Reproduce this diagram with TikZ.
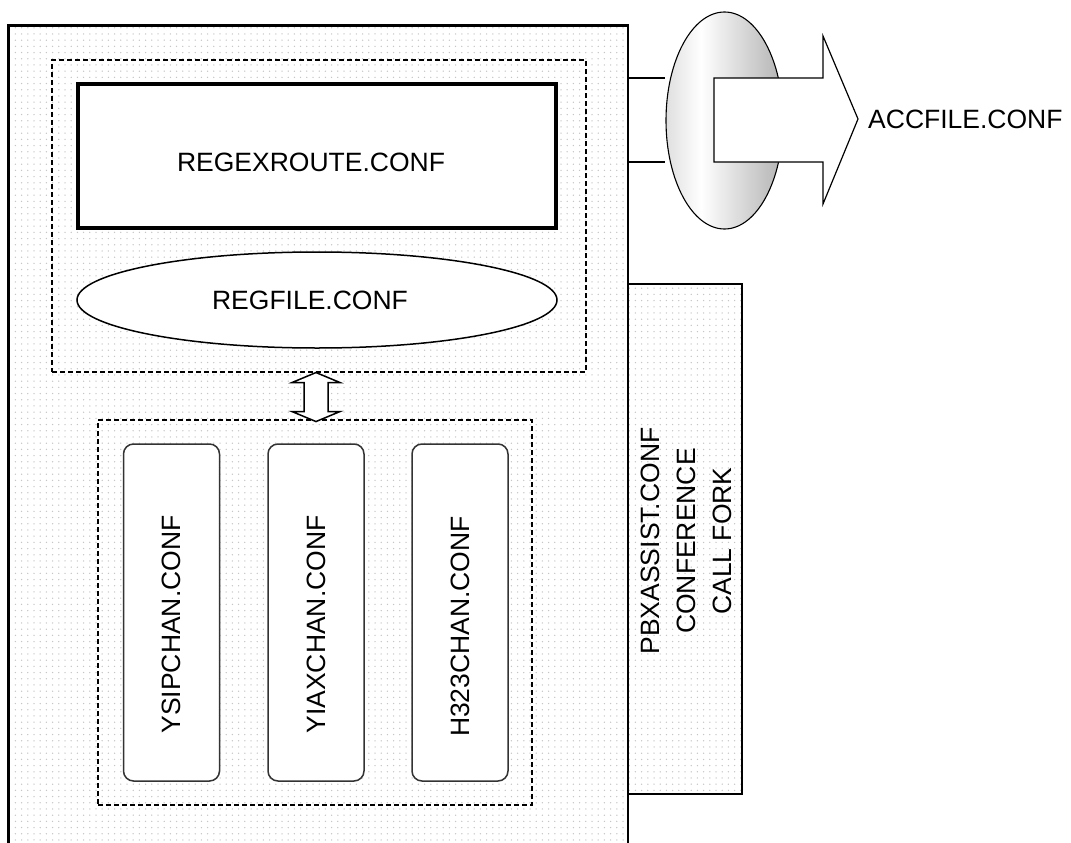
\documentclass[tikz,border=0pt]{standalone}
\usepackage{fontspec}
\setmainfont{Liberation Sans}
\usetikzlibrary{patterns,shapes.geometric,calc}
\pgfdeclarepatternformonly{sdots}{\pgfqpoint{-1pt}{-1pt}}{\pgfqpoint{7pt}{7pt}}{\pgfqpoint{6.2pt}{6.2pt}}{\pgfpathcircle{\pgfqpoint{3pt}{3pt}}{0.75pt}\pgfusepath{fill}}
\pgfdeclarehorizontalshading{ovalshade}{100bp}{color(0bp)=(gray!25); color(25bp)=(gray!25); color(40bp)=(white); color(75bp)=(gray!60); color(100bp)=(gray!60)}
\begin{document}
\begin{tikzpicture}[x=1pt,y=-1pt,
  every node/.style={font=\fontsize{26.5}{36}\selectfont, inner sep=0pt},
  dotfill/.style={pattern=sdots, pattern color=gray!45},
  frame/.style={draw, line width=2.5pt, dotfill},
  group/.style={draw, line width=1.1pt, dash pattern=on 5pt off 3pt},
  thickbox/.style={draw, line width=4pt, fill=white},
  oval/.style={draw, ellipse, line width=1.5pt, fill=white},
  chan/.style={draw=black!80, line width=1.5pt, fill=white, rounded corners=10pt},
  vtext/.style={rotate=90},
  plain/.style={line width=1.2pt}]
\useasboundingbox (0,0) rectangle (1071,843);

% main container
\node[frame, minimum width=619.5pt, minimum height=844.5pt] (main) at (318.25,447.75) {};
% PBX box
\node[frame, minimum width=114pt, minimum height=510pt] (pbx) at (685,539) {};
\node[vtext, align=center] (pbxt) at (686,541) {PBXASSIST.CONF\\CONFERENCE\\CALL FORK};

% upper group
\node[group, minimum width=534pt, minimum height=312pt] (g1) at (319,216) {};
\node[thickbox, minimum width=478pt, minimum height=144pt] (rx) at (317,156) {};
\node (rxt) at (311,162) {REGEXROUTE.CONF};
\node[oval, minimum width=480pt, minimum height=96pt] (reg) at (317,300) {};
\node (regt) at (310,300) {REGFILE.CONF};

% lower group
\node[group, minimum width=434pt, minimum height=385pt] (g2) at (315,612.5) {};
\node[chan, minimum width=96pt, minimum height=337pt] (ysip) at (171.5,612.5) {};
\node[chan, minimum width=96pt, minimum height=337pt] (yiax) at (316,612.5) {};
\node[chan, minimum width=96pt, minimum height=337pt] (h323) at (460,612.5) {};
\node[vtext] (ysipt) at ([yshift=-12pt]ysip.center) {YSIPCHAN.CONF};
\node[vtext] (yiaxt) at ([yshift=-12pt]yiax.center) {YIAXCHAN.CONF};
\node[vtext] (h323t) at ([yshift=-14pt]h323.center) {H323CHAN.CONF};

% double arrow between groups
\coordinate (dtop) at (g1.south -| 316,0);
\draw[fill=white, line width=1.5pt, line join=miter]
  (dtop) -- ++(24,10) -- ++(-12,0) -- ++(0,29) -- ++(12,0) -- ++(-24,10)
  -- ++(-24,-10) -- ++(12,0) -- ++(0,-29) -- ++(-12,0) -- cycle;

% output arrow
\node[anchor=west] (acc) at (868,119) {ACCFILE.CONF};
\node[draw, ellipse, line width=1.1pt, shading=ovalshade, minimum width=117pt, minimum height=217pt] (ovl) at (724.5,120.5) {};
\draw[plain] (main.east |- 0,78) -- (ovl.west |- 0,78);
\draw[plain] (main.east |- 0,162) -- (ovl.west |- 0,162);
\coordinate (tip) at ([xshift=-10pt]acc.west);
\draw[plain, fill=white, line join=miter]
  (tip) -- ++(-35,85) -- ++(0,-42) -- ++(-109,0) -- ++(0,-84) -- ++(109,0) -- ++(0,-42) -- cycle;
\end{tikzpicture}
\end{document}
